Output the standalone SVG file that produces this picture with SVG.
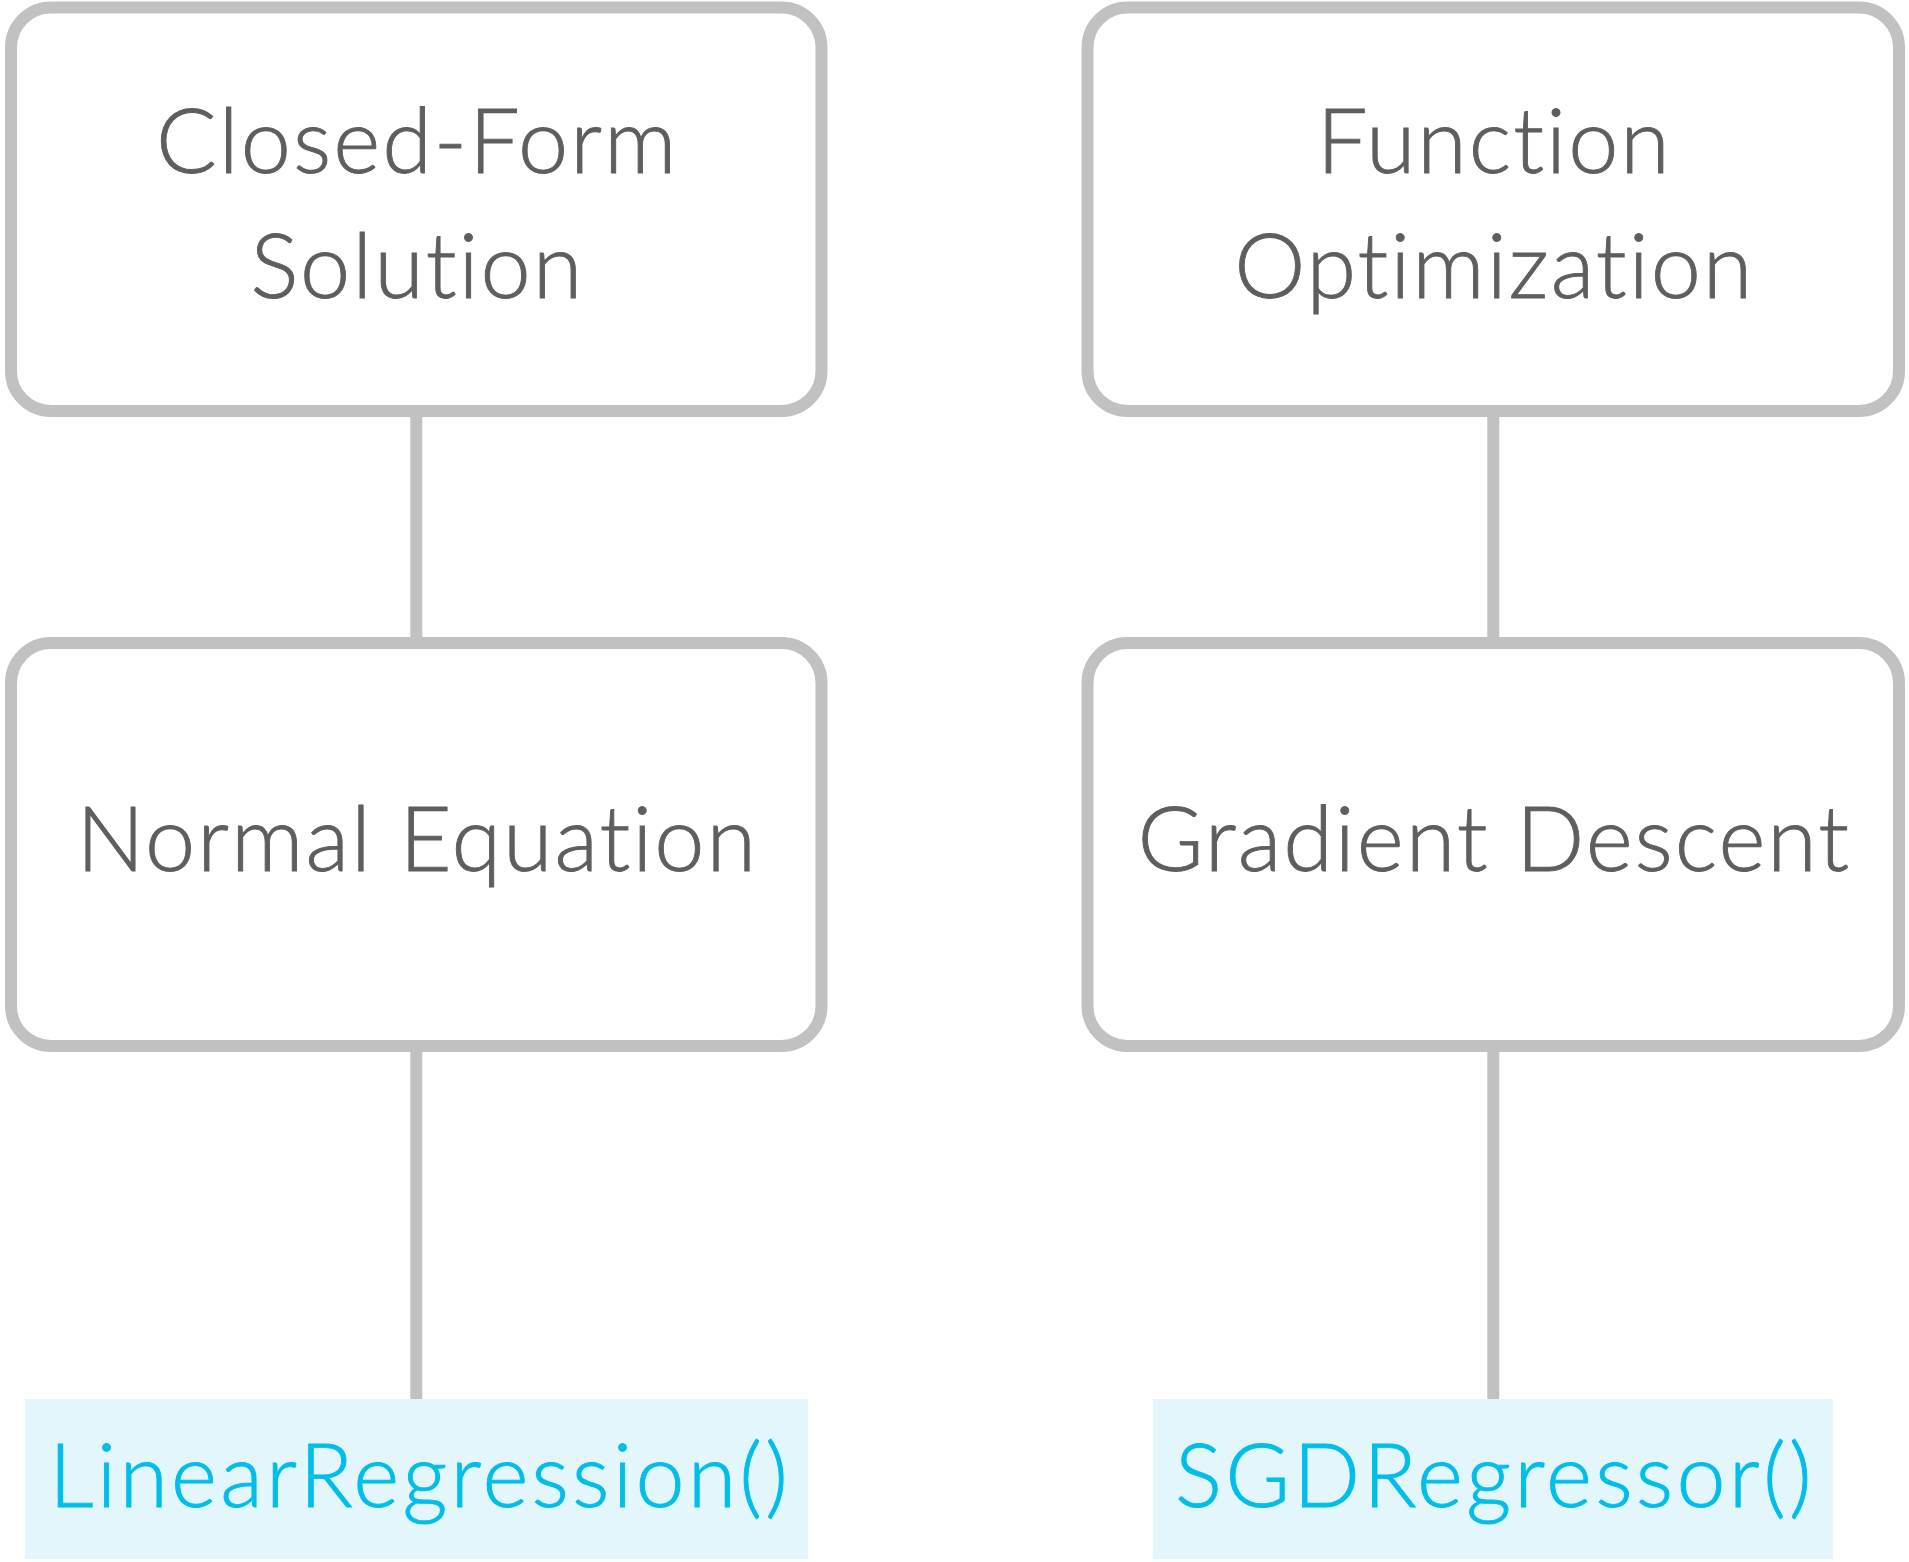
<svg xmlns="http://www.w3.org/2000/svg" width="1909" height="1562" viewBox="0 0 1909 1562">
<style>
.box{fill:#ffffff;stroke:#c1c1c1;stroke-width:12}
.lbl{font-family:Lato,"Open Sans","Liberation Sans",sans-serif;font-size:90px;font-weight:300;fill:#5e5e5e;stroke:#5e5e5e;stroke-width:0.9px;text-anchor:middle;letter-spacing:2px;font-variant-ligatures:none;font-feature-settings:"liga" 0}
.code{fill:#e3f6fc}
.codet{font-family:Lato,"Open Sans","Liberation Sans",sans-serif;font-size:88px;font-weight:300;fill:#00bdea;stroke:#00bdea;stroke-width:0.9px;text-anchor:middle;letter-spacing:3.2px;font-variant-ligatures:none;font-feature-settings:"liga" 0}
.edge{stroke:#c1c1c1;stroke-width:12;stroke-linecap:round;fill:none}
</style>
<rect width="1909" height="1562" fill="#ffffff"/>
<g id="connectors">
<line class="edge" x1="416.3" y1="411" x2="416.3" y2="643" style="stroke-linecap:butt"/>
<line class="edge" x1="416.3" y1="1046" x2="416.3" y2="1398"/>
<line class="edge" x1="1493.3" y1="411" x2="1493.3" y2="643" style="stroke-linecap:butt"/>
<line class="edge" x1="1493.3" y1="1046" x2="1493.3" y2="1398"/>
</g>
<g id="closed-form">
<rect class="box" x="11" y="7.5" width="810.5" height="403.5" rx="40"/>
<text class="lbl" x="417.3" y="173">Closed-Form</text>
<text class="lbl" x="417.3" y="298">Solution</text>
</g>
<g id="normal-equation">
<rect class="box" x="11" y="643" width="810.5" height="403" rx="40"/>
<text class="lbl" x="417.3" y="871">Normal Equation</text>
</g>
<g id="linear-regression">
<rect class="code" x="25" y="1399" width="783" height="160"/>
<text class="codet" x="420.1" y="1507">LinearRegression()</text>
</g>
<g id="function-optimization">
<rect class="box" x="1087.5" y="7.5" width="811.5" height="403.5" rx="40"/>
<text class="lbl" x="1494.3" y="173">Function</text>
<text class="lbl" x="1494.3" y="298">Optimization</text>
</g>
<g id="gradient-descent">
<rect class="box" x="1087.5" y="643" width="811.5" height="403" rx="40"/>
<text class="lbl" x="1494.3" y="871">Gradient Descent</text>
</g>
<g id="sgd-regressor">
<rect class="code" x="1153" y="1399" width="680" height="160"/>
<text class="codet" x="1494.9" y="1507">SGDRegressor()</text>
</g>
</svg>
